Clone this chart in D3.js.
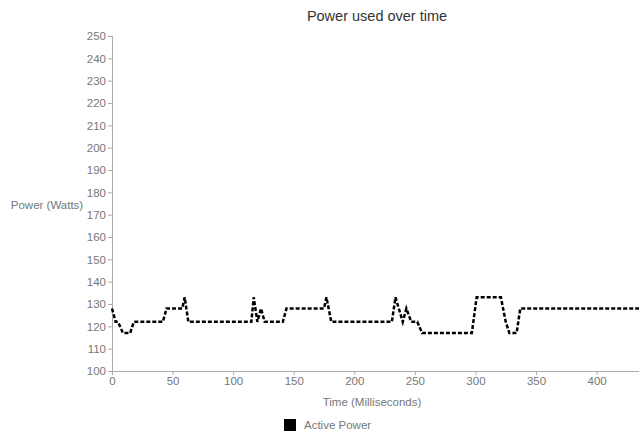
<!DOCTYPE html>
<html>
<head>
<meta charset="utf-8">
<script src="https://cdn.jsdelivr.net/npm/d3@7"></script>
<style>
  body { margin: 0; background: #fff; }
  svg { font-family: "Liberation Sans", Arial, sans-serif; }
  .axis path, .axis line { stroke: #aaa; }
  .axis text { fill: #777; font-size: 11.5px; }
</style>
</head>
<body>
<div id="container"></div>
<script>
const WIDTH = 639;
const HEIGHT = 434;
const MARGIN = { TOP: 36, BOTTOM: 63, LEFT: 112, RIGHT: 0 };

// time in ms, power in watts
const times = [0, 3, 5, 9, 15, 18, 42, 45, 58, 60, 63, 115, 117, 120, 123, 126,
               141, 144, 175, 177, 181, 231, 234, 240, 243, 247, 252, 256,
               297, 301, 321, 325, 328, 334, 337, 435];
const power = [128, 122, 122, 117, 117, 122, 122, 128, 128, 133, 122, 122, 133, 122, 128, 122,
               122, 128, 128, 133, 122, 122, 133, 122, 128, 122, 122, 117,
               117, 133, 133, 122, 117, 117, 128, 128];
const xTicks = [0, 50, 100, 150, 200, 250, 300, 350, 400];
const yTicks = d3.range(100, 251, 10);

const width = WIDTH - MARGIN.LEFT - MARGIN.RIGHT;
const height = HEIGHT - MARGIN.TOP - MARGIN.BOTTOM;

const data = times.map((t, i) => ({ t, v: power[i] }));

const svg = d3.select('#container')
              .append('svg')
                .attr('width', WIDTH)
                .attr('height', HEIGHT);

const g = svg.append('g')
             .attr('transform', `translate(${MARGIN.LEFT}, ${MARGIN.TOP})`);

const xscale = d3.scaleLinear().domain([0, 435]).range([0, width]);
const yscale = d3.scaleLinear().domain([100, 250]).range([height, 0]);

g.append('g')
   .attr('class', 'axis')
   .attr('transform', `translate(0, ${height})`)
   .call(d3.axisBottom(xscale).tickValues(xTicks).tickSize(4).tickSizeOuter(0).tickPadding(2));

g.append('g')
   .attr('class', 'axis')
   .call(d3.axisLeft(yscale).tickValues(yTicks).tickSize(4).tickSizeOuter(4).tickPadding(2));

const line = d3.line().x(d => xscale(d.t)).y(d => yscale(d.v));

g.append('path')
   .datum(data)
   .attr('fill', 'none')
   .attr('stroke', '#000')
   .attr('stroke-width', 2.5)
   .attr('stroke-dasharray', '4,2')
   .attr('d', line);

svg.append('text')
   .attr('x', 377).attr('y', 21)
   .attr('text-anchor', 'middle')
   .attr('font-size', 14.5)
   .attr('fill', '#333')
   .text('Power used over time');

svg.append('text')
   .attr('x', 47).attr('y', 209)
   .attr('text-anchor', 'middle')
   .attr('font-size', 11.5)
   .attr('fill', '#777')
   .text('Power (Watts)');

svg.append('text')
   .attr('x', 372).attr('y', 406)
   .attr('text-anchor', 'middle')
   .attr('font-size', 11.5)
   .attr('fill', '#777')
   .text('Time (Milliseconds)');

const legend = svg.append('g').attr('transform', 'translate(284, 419)');
legend.append('rect').attr('width', 12).attr('height', 12).attr('fill', '#000');
legend.append('text')
      .attr('x', 20).attr('y', 10)
      .attr('font-size', 11.5)
      .attr('fill', '#777')
      .text('Active Power');
</script>
</body>
</html>
